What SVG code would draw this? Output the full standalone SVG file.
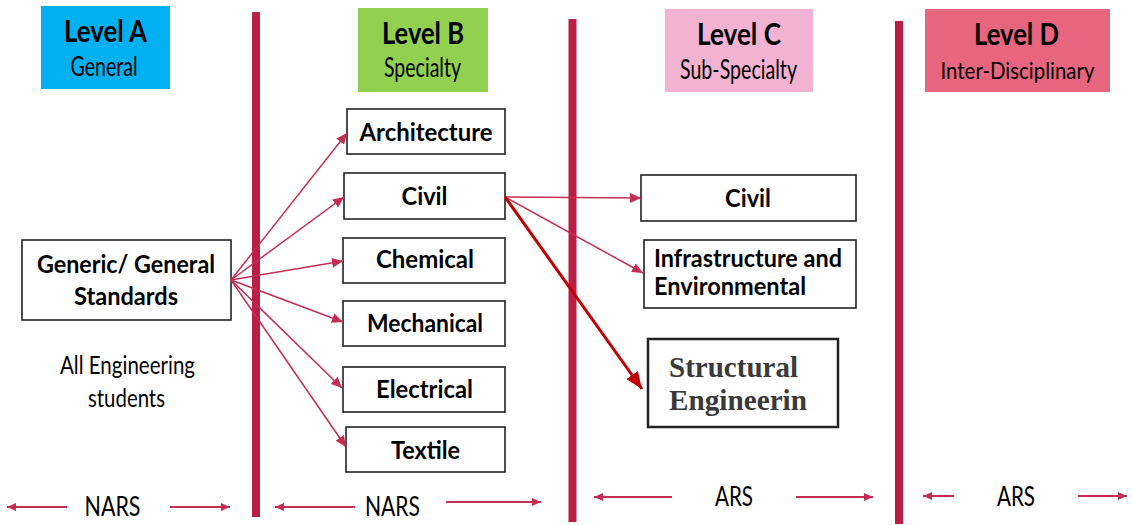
<svg xmlns="http://www.w3.org/2000/svg" width="1133" height="525" viewBox="0 0 1133 525">
<style>
  .hd{font-family:Lato,"Open Sans","Liberation Sans",sans-serif;font-weight:bold;font-size:30px;fill:#000;text-anchor:middle}
  .sub{font-family:Lato,"Open Sans","Liberation Sans",sans-serif;font-size:26px;fill:#000;text-anchor:middle}
  .box{fill:#fff;stroke:#222;stroke-width:1.6}
  .lb{font-family:Lato,"Open Sans","Liberation Sans",sans-serif;font-weight:bold;font-size:25px;fill:#000;text-anchor:middle}
  .lbl{font-family:Lato,"Open Sans","Liberation Sans",sans-serif;font-weight:bold;font-size:25px;fill:#000}
  .ser{font-family:"Liberation Serif","Times New Roman",serif;font-weight:bold;font-size:29px;fill:#3a3a3a}
  .note{font-family:Lato,"Open Sans","Liberation Sans",sans-serif;font-size:25px;fill:#000;text-anchor:middle}
  .rs{font-family:Lato,"Open Sans","Liberation Sans",sans-serif;font-size:27px;fill:#000;text-anchor:middle}
  .bar{stroke:#B91E45;stroke-width:8}
  .thin{stroke:#C42E52;stroke-width:1.5;fill:none;marker-end:url(#ah)}
  .bot{stroke:#C42E52;stroke-width:2;fill:none;marker-end:url(#ah2)}
  .thick{stroke:#C00000;stroke-width:3;fill:none;marker-end:url(#ahr)}
</style>
<defs>
  <marker id="ah" markerUnits="userSpaceOnUse" markerWidth="12" markerHeight="10" refX="11" refY="5" orient="auto">
    <path d="M0,0 L11,5 L0,10 Z" fill="#C42E52"/>
  </marker>
  <marker id="ah2" markerUnits="userSpaceOnUse" markerWidth="10" markerHeight="10" refX="9" refY="5" orient="auto">
    <path d="M0,1 L9,5 L0,9 Z" fill="#C42E52"/>
  </marker>
  <marker id="ahr" markerUnits="userSpaceOnUse" markerWidth="18" markerHeight="14" refX="17" refY="7" orient="auto">
    <path d="M0,0 L17,7 L0,14 Z" fill="#C00000"/>
  </marker>
</defs>
<rect width="1133" height="525" fill="#fff"/>

<g id="bars">
  <line class="bar" x1="256" y1="12" x2="256" y2="517"/>
  <line class="bar" x1="572.5" y1="19" x2="572.5" y2="522"/>
  <line class="bar" x1="899" y1="21" x2="899" y2="524"/>
</g>

<g id="levelA">
  <rect x="41" y="6" width="129" height="83" fill="#00B0F0"/>
  <text class="hd" x="105.5" y="42" textLength="83" lengthAdjust="spacingAndGlyphs">Level A</text>
  <text class="sub" x="104" y="76" textLength="67" lengthAdjust="spacingAndGlyphs">General</text>
</g>
<g id="levelB">
  <rect x="358" y="8" width="130" height="84" fill="#92D050"/>
  <text class="hd" x="423" y="44" textLength="82" lengthAdjust="spacingAndGlyphs">Level B</text>
  <text class="sub" x="422.5" y="77" textLength="77" lengthAdjust="spacingAndGlyphs">Specialty</text>
</g>
<g id="levelC">
  <rect x="665" y="9" width="148" height="83" fill="#F2B3D3"/>
  <text class="hd" x="739" y="45" textLength="84" lengthAdjust="spacingAndGlyphs">Level C</text>
  <text class="sub" x="738.5" y="79" textLength="117" lengthAdjust="spacingAndGlyphs">Sub-Specialty</text>
</g>
<g id="levelD">
  <rect x="925" y="9" width="185" height="83" fill="#E8657F"/>
  <text class="hd" x="1016.5" y="45" textLength="85" lengthAdjust="spacingAndGlyphs">Level D</text>
  <text class="sub" x="1017.5" y="79" style="font-size:24px" textLength="154" lengthAdjust="spacingAndGlyphs">Inter-Disciplinary</text>
</g>

<g id="generic">
  <rect class="box" x="22" y="240" width="209" height="80"/>
  <text class="lb" x="126" y="273" textLength="178" lengthAdjust="spacingAndGlyphs">Generic/ General</text>
  <text class="lb" x="126" y="305" textLength="104" lengthAdjust="spacingAndGlyphs">Standards</text>
</g>
<g id="allEng">
  <text class="note" x="127.5" y="374" textLength="135" lengthAdjust="spacingAndGlyphs">All Engineering</text>
  <text class="note" x="126.5" y="407" textLength="77" lengthAdjust="spacingAndGlyphs">students</text>
</g>

<g id="architecture">
  <rect class="box" x="347" y="109" width="158" height="45"/>
  <text class="lb" x="426" y="141" textLength="133" lengthAdjust="spacingAndGlyphs">Architecture</text>
</g>
<g id="civilB">
  <rect class="box" x="344" y="173" width="161" height="46"/>
  <text class="lb" x="424.5" y="205" textLength="46" lengthAdjust="spacingAndGlyphs">Civil</text>
</g>
<g id="chemical">
  <rect class="box" x="343" y="238" width="162" height="45"/>
  <text class="lb" x="425" y="268" textLength="98" lengthAdjust="spacingAndGlyphs">Chemical</text>
</g>
<g id="mechanical">
  <rect class="box" x="343" y="301" width="162" height="45"/>
  <text class="lb" x="425" y="332" textLength="116" lengthAdjust="spacingAndGlyphs">Mechanical</text>
</g>
<g id="electrical">
  <rect class="box" x="343" y="367" width="162" height="45"/>
  <text class="lb" x="424.5" y="398" textLength="97" lengthAdjust="spacingAndGlyphs">Electrical</text>
</g>
<g id="textile">
  <rect class="box" x="346" y="427" width="159" height="45"/>
  <text class="lb" x="425.5" y="459" textLength="69" lengthAdjust="spacingAndGlyphs">Textile</text>
</g>

<g id="civilC">
  <rect class="box" x="641" y="175" width="215" height="46"/>
  <text class="lb" x="748" y="207" textLength="46" lengthAdjust="spacingAndGlyphs">Civil</text>
</g>
<g id="infra">
  <rect class="box" x="644" y="240" width="212" height="68"/>
  <text class="lbl" x="654" y="267" textLength="188" lengthAdjust="spacingAndGlyphs">Infrastructure and</text>
  <text class="lbl" x="654" y="295" textLength="152" lengthAdjust="spacingAndGlyphs">Environmental</text>
</g>
<g id="structural">
  <rect x="648" y="339" width="190" height="88" fill="#fff" stroke="#222" stroke-width="2.5"/>
  <text class="ser" x="669" y="377" textLength="129" lengthAdjust="spacingAndGlyphs">Structural</text>
  <text class="ser" x="669" y="410" textLength="138" lengthAdjust="spacingAndGlyphs">Engineerin</text>
</g>

<g id="connectors">
  <line class="thin" x1="231" y1="280" x2="347" y2="133"/>
  <line class="thin" x1="231" y1="280" x2="344" y2="197"/>
  <line class="thin" x1="231" y1="280" x2="343" y2="261"/>
  <line class="thin" x1="231" y1="280" x2="343" y2="322"/>
  <line class="thin" x1="231" y1="280" x2="342" y2="388"/>
  <line class="thin" x1="231" y1="280" x2="346" y2="447"/>
  <line class="thin" x1="505" y1="197" x2="641" y2="198"/>
  <line class="thin" x1="505" y1="197" x2="643" y2="273"/>
  <line class="thick" x1="505" y1="197" x2="642" y2="389"/>

  <line class="bot" x1="67" y1="507" x2="7" y2="507"/>
  <line class="bot" x1="170" y1="507" x2="230" y2="507"/>
  <line class="bot" x1="355" y1="507" x2="275" y2="507"/>
  <line class="bot" x1="446" y1="502" x2="541" y2="502"/>
  <line class="bot" x1="672" y1="497" x2="594" y2="497"/>
  <line class="bot" x1="796" y1="497" x2="873" y2="497"/>
  <line class="bot" x1="954" y1="496" x2="923" y2="496"/>
  <line class="bot" x1="1078" y1="496" x2="1127" y2="496"/>
</g>

<g id="rangeLabels">
  <text class="rs" x="112.5" y="516" textLength="56" lengthAdjust="spacingAndGlyphs">NARS</text>
  <text class="rs" x="392.5" y="516" textLength="55" lengthAdjust="spacingAndGlyphs">NARS</text>
  <text class="rs" x="734" y="506" textLength="38" lengthAdjust="spacingAndGlyphs">ARS</text>
  <text class="rs" x="1016" y="506" textLength="38" lengthAdjust="spacingAndGlyphs">ARS</text>
</g>
</svg>
